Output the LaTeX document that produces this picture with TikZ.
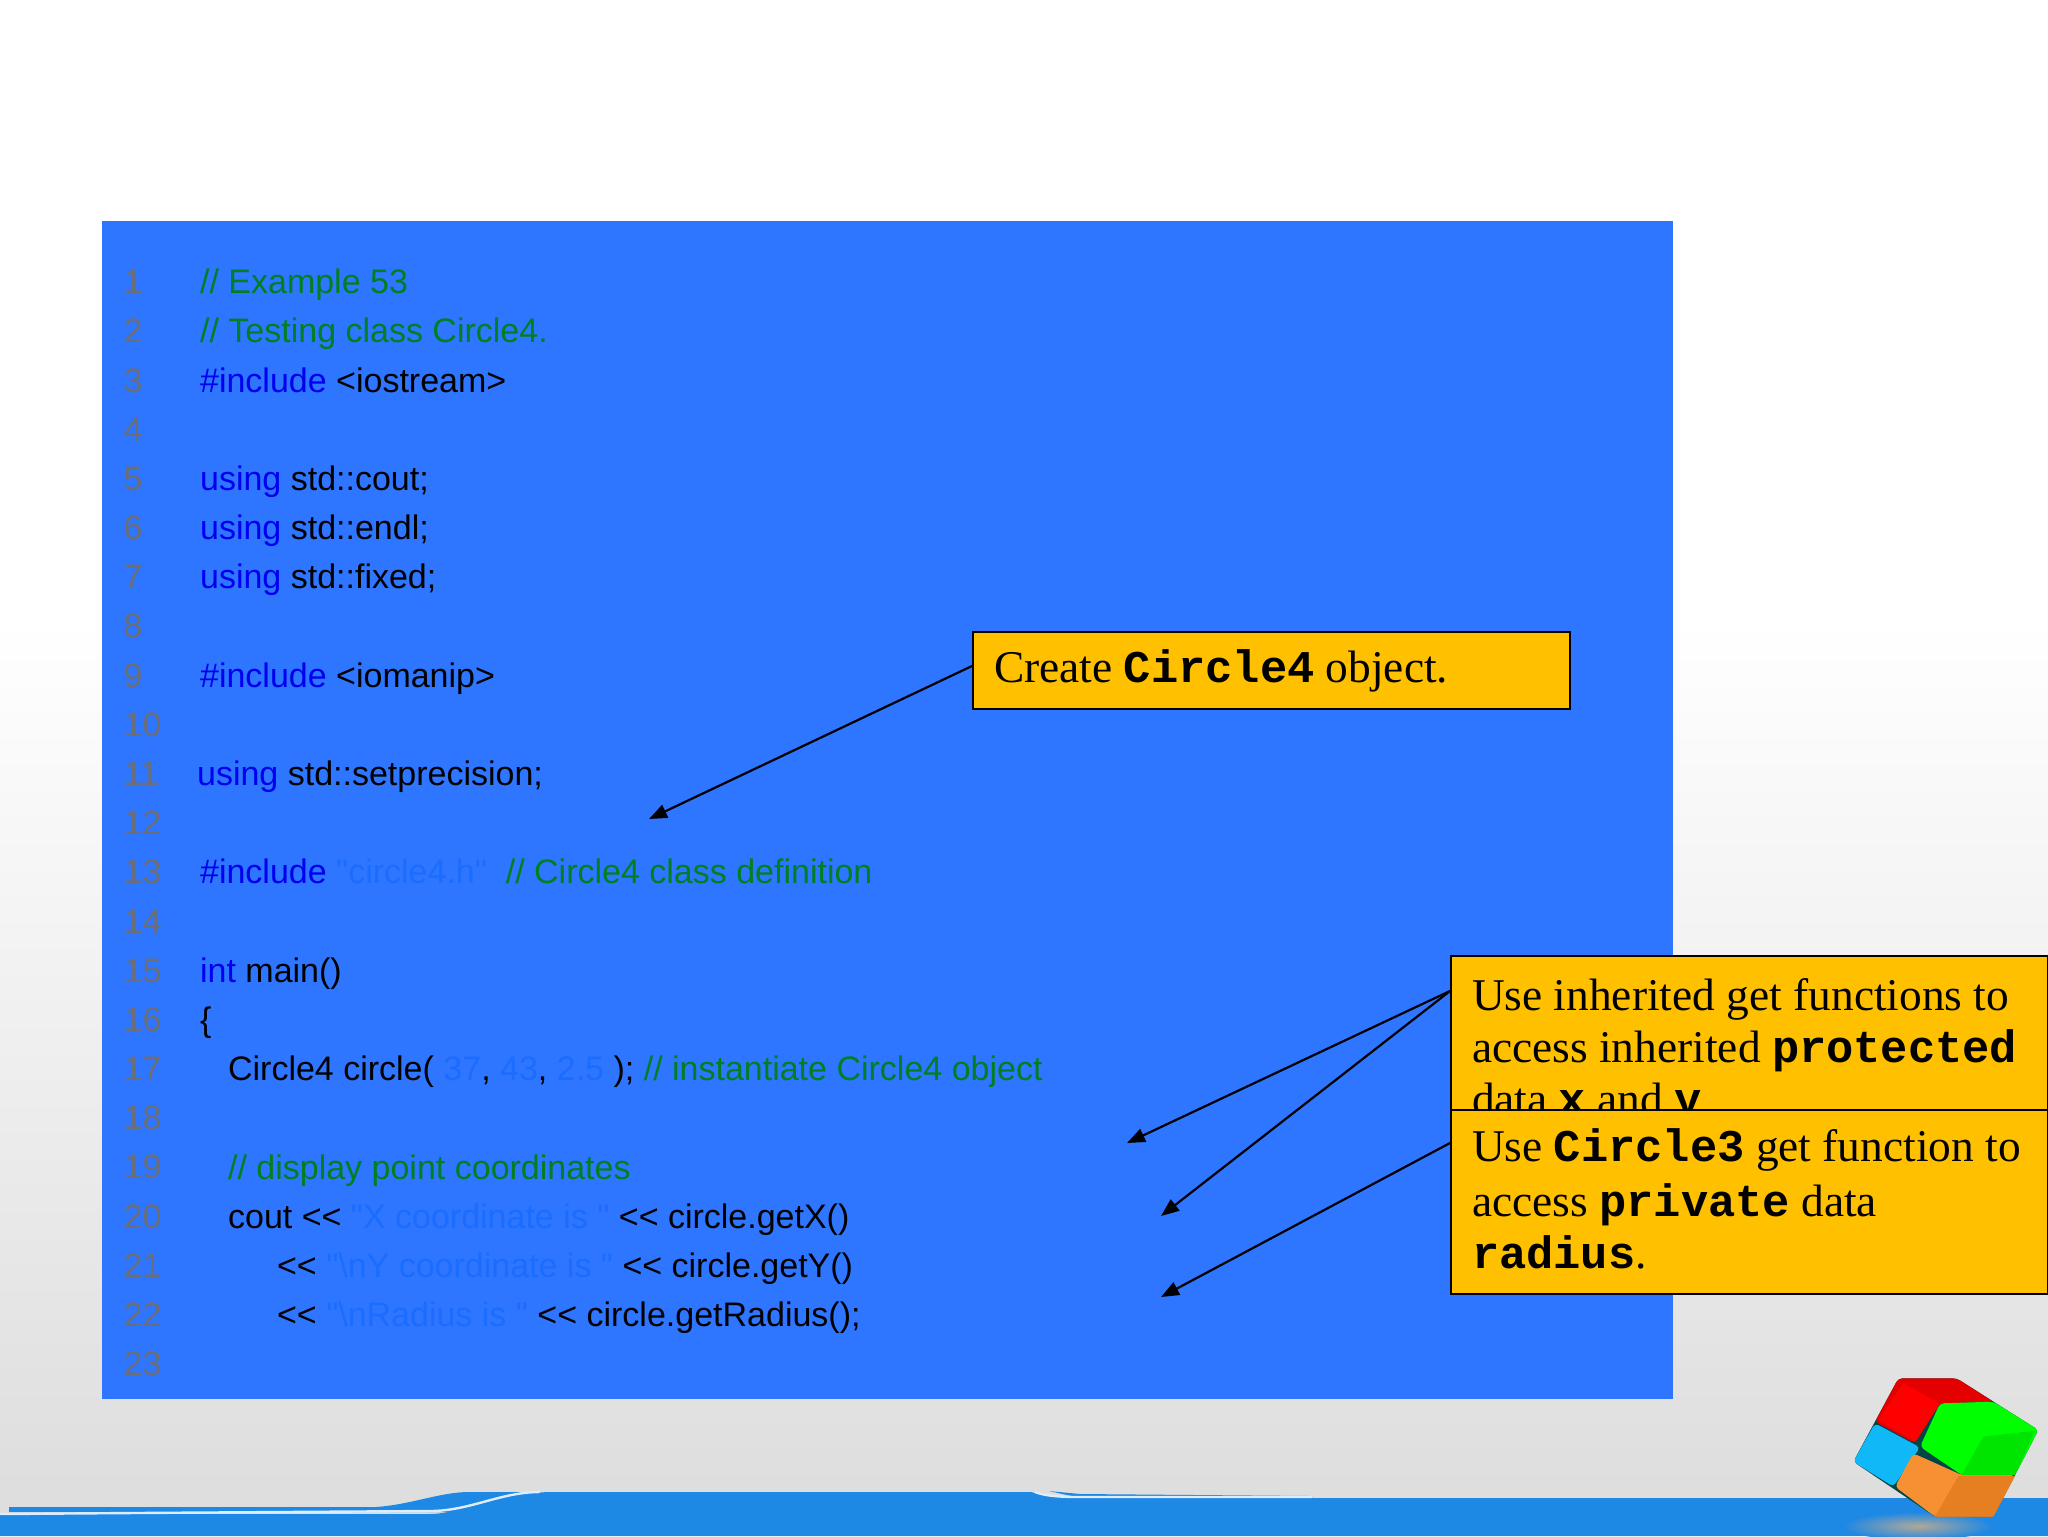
\documentclass[tikz,border=0pt]{standalone}
\usepackage{fontspec}
\usepackage{tikz}
\usetikzlibrary{arrows.meta}

\setmainfont{Liberation Serif}
\setmonofont{Liberation Mono}
\newfontfamily\codefont{Liberation Sans}

\definecolor{panelblue}{HTML}{2E75FF}
\definecolor{bandblue}{HTML}{1E88E5}
\definecolor{notegold}{HTML}{FFC000}
\definecolor{kwblue}{HTML}{0000F0}
\definecolor{strblue}{HTML}{1A6DFF}
\definecolor{cmgreen}{HTML}{008020}
\definecolor{numgray}{HTML}{6C6E76}
\definecolor{glowtan}{HTML}{B0A898}
\definecolor{cubeblue}{HTML}{10B8F8}
\definecolor{cubeorange}{HTML}{F59033}
\definecolor{cubeorangedark}{HTML}{E67E22}

\newcommand{\kw}[1]{\textcolor{kwblue}{#1}}
\newcommand{\st}[1]{\textcolor{strblue}{#1}}
\newcommand{\cm}[1]{\textcolor{cmgreen}{#1}}
\newcommand{\mb}[1]{{\ttfamily\bfseries #1}}

\begin{document}
\begin{tikzpicture}[
     x = 0.5pt,
     y = -0.5pt,
     > = {Triangle[length=9pt,width=7pt]}, % arrow head style
     shorten > = 0pt,
     line width = 1.1pt
 ]

 \tikzstyle{code}=[
     anchor = base west,
     inner sep = 0pt,
     text = black,
     font = \codefont\fontsize{17}{20}\selectfont
 ]
 \tikzstyle{lineno}=[
     code,
     text = numgray
 ]
 \tikzstyle{note}=[
     draw = black,
     line width = 1pt,
     fill = notegold,
     anchor = north west,
     align = flush left,
     inner xsep = 10.5pt,
     font = \fontsize{22.7}{26}\selectfont
 ]

 \useasboundingbox (0,0) rectangle (2048,1536);

 % slide background
 \fill[white] (0,0) rectangle (2048,1536);
 \shade[top color=white, bottom color=black!13, draw=none, line width=0pt] (0,620) rectangle (2048,1492);
 \fill[black!13] (0,1490) rectangle (2048,1536);

 % band along the bottom
 \fill[bandblue] (0,1514) -- (430,1514) .. controls (460,1514) and (500,1492) .. (553,1492)
   -- (1031,1492) .. controls (1045,1496) and (1060,1498) .. (1080,1498)
   -- (2048,1498) -- (2048,1536) -- (0,1536) -- cycle;
 \fill[bandblue] (9,1507) -- (375,1507) .. controls (410,1505) and (440,1492) .. (469,1492)
   -- (540,1492) -- (470,1512) -- (9,1512) -- cycle;
 \fill[bandblue] (1049,1491) -- (1080,1494) -- (1312,1496) -- (1312,1498) -- (1080,1498) -- cycle;
 \draw[white!85!bandblue, line width=1.2pt] (0,1514) -- (134,1513) -- (430,1511)
   .. controls (470,1511) and (500,1492) .. (540,1492);
 \draw[white!85!bandblue, line width=1.2pt] (1035,1492) .. controls (1045,1496) and (1060,1497) .. (1080,1497) -- (1312,1497);

 % code panel
 \fill[panelblue] (102,221) rectangle (1673,1399);

 % line numbers
 \foreach \i in {1,...,23} {
   \node[lineno] (n\i) at (122.5, 293.7 + 49.18*\i - 49.18) {\i};
 }

 % code lines
 \node[code] (c1) at (199,293.7) {\cm{// Example 53}};
 \node[code] (c2) at (199,342.9) {\cm{// Testing class Circle4.}};
 \node[code] (c3) at (199,392.1) {\kw{\#include} <iostream>};
 \node[code] (c5) at (199,490.4) {\kw{using} std::cout;};
 \node[code] (c6) at (199,539.6) {\kw{using} std::endl;};
 \node[code] (c7) at (199,588.8) {\kw{using} std::fixed;};
 \node[code] (c9) at (199,687.1) {\kw{\#include} <iomanip>};
 \node[code] (c11) at (196,785.5) {\kw{using} std::setprecision;};
 \node[code] (c13) at (199,883.9) {\kw{\#include} \st{"circle4.h"}\ \ \cm{// Circle4 class definition}};
 \node[code] (c15) at (199,982.2) {\kw{int} main()};
 \node[code] (c16) at (199,1031.4) {\{};
 \node[code] (c17) at (227,1080.6) {Circle4 circle( \st{37}, \st{43}, \st{2.5} ); \cm{// instantiate Circle4 object}};
 \node[code] (c19) at (227,1179) {\cm{// display point coordinates}};
 \node[code] (c20) at (227,1228.1) {cout <{}< \st{"X coordinate is "} <{}< circle.getX()};
 \node[code] (c21) at (276,1277.3) {<{}< \st{"\textbackslash nY coordinate is "} <{}< circle.getY()};
 \node[code] (c22) at (276,1326.5) {<{}< \st{"\textbackslash nRadius is "} <{}< circle.getRadius();};

 % notes
 \node[note, text width=298.5pt-21pt, inner ysep=8.6pt] (create) at (972,631) {Create \mb{Circle4} object.};
 \node[note, text width=298.5pt-21pt, inner ysep=11.5pt] (inherit) at (1450,955) {Use inherited get functions to\\access inherited \mb{protected}\\data \mb{x} and \mb{y}.};
 \node[note, text width=298.5pt-21pt, inner ysep=9.5pt] (radius) at (1450,1109) {\setlength{\baselineskip}{27.5pt}Use \mb{Circle3} get function to\\access \mb{private} data\\\mb{radius}.\rule[-3pt]{0pt}{1pt}};

 % arrow targets
 \coordinate (obj) at (649,819);
 \coordinate (getx) at (1127,1143);
 \coordinate (gety) at (1161,1216);
 \coordinate (getr) at (1161,1297);

 \draw[->] ([yshift=-17.5pt]create.north west) -- (obj);
 \draw[->] ([yshift=-18pt]inherit.north west) -- (getx);
 \draw[->] ([yshift=-18pt]inherit.north west) -- (gety);
 \draw[->] ([yshift=-17pt]radius.north west) -- (getr);

 % glow under the cube
 \begin{scope}
   \clip (1800,1498) rectangle (2048,1536);
   \shade[inner color=glowtan, outer color=bandblue, draw=none] (1918,1526) ellipse (75 and 14);
 \end{scope}

 % cube
 \begin{scope}[shift={(1750,1340)}, x=0.16667pt, y=-0.16667pt, line join=round]
   \fill[black!45!teal, rounded corners=2pt] (445,115) -- (620,115) -- (865,270) -- (730,530) -- (555,530) -- (310,365) -- cycle;
   \fill[red!90!black, rounded corners=2pt] (445,115) -- (620,115) -- (730,185) -- (570,190) -- (495,310) -- (375,245) -- cycle;
   \fill[red] (460,130) -- (570,190) -- (495,305) -- (385,240) -- cycle;
   \fill[cubeblue, rounded corners=2pt] (375,250) -- (510,322) -- (430,440) -- (310,365) -- cycle;
   \fill[cubeorange, rounded corners=2pt] (490,340) -- (635,405) -- (795,405) -- (730,530) -- (555,530) -- (435,440) -- cycle;
   \fill[cubeorangedark] (625,408) -- (795,408) -- (730,530) -- (555,530) -- cycle;
   \fill[green, rounded corners=2pt] (570,190) -- (730,185) -- (865,270) -- (795,405) -- (635,405) -- (510,320) -- cycle;
   \fill[green!90!black] (700,290) -- (855,272) -- (795,405) -- (635,405) -- cycle;
 \end{scope}
\end{tikzpicture}
\end{document}
